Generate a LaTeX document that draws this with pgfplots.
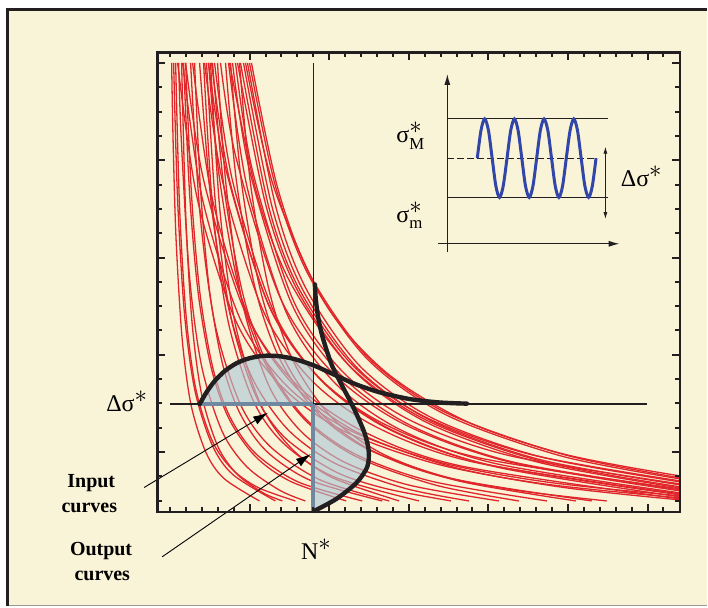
\documentclass[border=0pt]{standalone}
\usepackage{fontspec}
\setmainfont{Liberation Serif}
\usepackage{amsmath}
\usepackage{pgfplots}
\pgfplotsset{compat=1.18}
\usetikzlibrary{arrows.meta}

\definecolor{paper}{RGB}{249,243,216}
\definecolor{snred}{RGB}{224,38,42}
\definecolor{steel}{RGB}{112,137,160}
\definecolor{shade}{RGB}{172,201,213}
\definecolor{wave}{RGB}{50,70,170}
\definecolor{ink}{RGB}{35,31,32}

\newcommand{\lbl}{\fontsize{24}{28}\selectfont}
\newcommand{\bold}{\bfseries\fontsize{20}{25}\selectfont}
% a full-size asterisk used as a superscript
\newcommand{\st}{^{\displaystyle\ast}}

\pgfplotsset{
  sn/.style={snred, line width=1.3pt, smooth},
  pdf/.style={ink, line width=4.4pt, smooth, line cap=round},
}

\begin{document}
\begin{tikzpicture}
\begin{axis}[
  scale only axis,
  width=524pt, height=460.5pt,
  xmin=157.5, xmax=681.5,
  ymin=52.5, ymax=513,
  y dir=reverse,
  clip=false,
  axis on top,
  axis line style={line width=2.7pt, draw=ink},
  tick align=inside,
  xtick pos=both, ytick pos=both,
  xtick={250.15,329.9,...,650},
  minor xtick={170.4,186.35,...,666},
  ytick={63.3,160.7,...,455},
  minor ytick={63.3,87.65,...,503},
  xticklabels={}, yticklabels={},
  major tick length=8pt, minor tick length=5pt,
  tick style={line width=2pt, draw=ink},
]

% page and frame
\fill[white] (axis cs:0,0) rectangle (axis cs:708,609);
\fill[paper] (axis cs:8,10) rectangle (axis cs:708,607);
\draw[ink, line width=3pt] (axis cs:8,607) -- (axis cs:8,10) -- (axis cs:708,10);
\draw[black!40, line width=1pt] (axis cs:9.5,607) -- (axis cs:708,607);

% S-N curves reaching the right edge
\addplot[sn] coordinates {(252,63) (278,187.4) (310.7,275.5) (368.3,357.8) (445.2,412.7) (560.5,453.9) (682,477)};
\addplot[sn] coordinates {(250,63) (275.9,186.1) (309.2,275.7) (367.8,359.5) (446,415.3) (563.3,457.2) (682,480)};
\addplot[sn] coordinates {(248,63) (276.5,207.5) (307.2,290.2) (361.3,367.5) (433.5,419.1) (541.8,457.8) (682,483)};
\addplot[sn] coordinates {(246,63) (274.1,186.6) (325.4,303.3) (387.1,373.3) (469.2,423.1) (571.9,457.3) (682,479)};
\addplot[sn] coordinates {(244,63) (272.6,207.1) (303.6,290.8) (358.5,369.2) (431.6,421.4) (541.3,460.6) (682,486)};
\addplot[sn] coordinates {(241,63) (269.4,207.7) (299.8,289.6) (353.5,366.2) (425,417.3) (532.3,455.6) (682,482)};
\addplot[sn] coordinates {(238,63) (266.5,205.9) (298.1,290.9) (353.7,370.5) (427.9,423.5) (539.3,463.2) (682,489)};
\addplot[sn] coordinates {(236,63) (252.8,170) (294.4,302.1) (344.4,373.5) (411,421.1) (510.9,456.7) (682,485)};
\addplot[sn] coordinates {(233,63) (249.8,169.6) (292.4,304.7) (343.5,377.7) (411.6,426.4) (513.8,462.9) (682,491)};
\addplot[sn] coordinates {(230,63) (256.8,191.9) (290,281.3) (348.5,364.9) (426.5,420.7) (543.6,462.5) (682,488)};
\addplot[sn] coordinates {(229,63) (247.7,187.8) (287.9,315.4) (336.1,384.3) (400.4,430.2) (496.9,464.6) (682,494)};
\addplot[sn] coordinates {(221,63) (236.4,157.4) (280.8,298.3) (334.1,374.4) (405.1,425.2) (511.7,463.2) (682,492)};
\addplot[sn] coordinates {(215,63) (233.1,181.5) (274.4,312.4) (323.8,383.1) (389.8,430.2) (488.8,465.5) (682,496)};
\addplot[sn] coordinates {(212,63) (229.9,179.9) (270.4,308.5) (319,378) (383.8,424.3) (481,459) (682,490)};
\addplot[sn] coordinates {(209,63) (225.6,166.9) (269.3,305.5) (321.7,380.4) (391.5,430.3) (496.3,467.7) (682,498)};
\addplot[sn] coordinates {(205,63) (223.2,182.5) (264,312) (312.9,381.9) (378.2,428.5) (476.1,463.4) (682,495)};
\addplot[sn] coordinates {(186,63) (204.1,180.6) (245.6,312.5) (295.5,383.8) (362,431.3) (461.7,466.9) (682,500)};
\addplot[sn] coordinates {(183,63) (202.7,198.7) (241.1,320.6) (287.1,386.4) (348.6,430.3) (440.7,463.2) (548.2,483.1) (682,497)};
\addplot[sn] coordinates {(193,63) (212.9,199.8) (251.8,323.5) (298.5,390.2) (360.9,434.7) (454.3,468.1) (563.4,488.3) (682,501)};
\addplot[sn] coordinates {(178,63) (197.7,199.1) (236.3,321.6) (282.6,387.7) (344.3,431.8) (436.9,464.8) (544.9,484.9) (682,499)};

% S-N curves ending at the bottom
\addplot[sn] coordinates {(172,63) (173.4,138.1) (176.4,238.6) (182.5,339) (191.5,406) (206.6,453.9) (224.7,479.7) (260,502)};
\addplot[sn] coordinates {(174,63) (177.9,198.1) (184.8,313.7) (195.2,390.8) (212.6,445.9) (233.4,475.6) (276,502)};
\addplot[sn] coordinates {(176,63) (180,208.8) (186.6,317.5) (196.3,390) (212.7,441.8) (232.2,469.8) (258.3,488.4) (296,502)};
\addplot[sn] coordinates {(179,63) (181.6,138.8) (189.8,275.8) (202.1,367.2) (222.7,432.5) (247.4,467.8) (280.3,491.3) (306,502)};
\addplot[sn] coordinates {(182,63) (186.2,217.2) (192.6,324.8) (202.3,396.5) (218.5,447.8) (237.8,475.4) (263.7,493.9) (283,502)};
\addplot[sn] coordinates {(184,63) (190,194) (198.7,294.3) (211.9,369.5) (229.5,419.7) (255.8,457.3) (290.9,482.3) (347,502)};
\addplot[sn] coordinates {(186,63) (192.1,198) (200.6,295.7) (213.4,369) (230.5,417.9) (256.2,454.5) (298.9,483) (363,502)};
\addplot[sn] coordinates {(191,63) (200.3,212.8) (215.4,324.5) (240.5,404.3) (270.7,447.4) (321,481) (390,502)};
\addplot[sn] coordinates {(195,63) (200.8,187.6) (209.6,288.3) (222.8,363.8) (240.4,414.1) (266.8,451.9) (310.9,481.3) (383,502)};
\addplot[sn] coordinates {(204,63) (213.1,208.4) (228.3,320.6) (253.5,400.8) (283.8,444) (334.3,477.7) (420,502)};
\addplot[sn] coordinates {(207,63) (216,204.7) (231.1,316.5) (256.2,396.3) (286.4,439.4) (336.7,473) (387,489.7) (452,502)};
\addplot[sn] coordinates {(211,63) (220.3,210) (235.6,324) (261.3,405.4) (292.1,449.4) (333.1,478.7) (400,502)};
\addplot[sn] coordinates {(213,63) (224.2,185.7) (243.1,293.5) (268.2,365.4) (305.9,419.3) (356.2,455.2) (431.7,482.1) (548,502)};
\addplot[sn] coordinates {(231,63) (242,182.8) (260.9,290.6) (286,362.4) (323.7,416.3) (374,452.2) (449.4,479.1) (593,502)};
\addplot[sn] coordinates {(226,63) (236.9,181.2) (255.7,288.8) (280.8,360.6) (318.5,414.4) (368.8,450.3) (444.1,477.2) (519.5,491.7) (608,502)};
\addplot[sn] coordinates {(240,63) (251.1,184.6) (270.1,292.7) (295.3,364.8) (333.1,418.9) (383.6,454.9) (459.3,481.9) (577,502)};
\addplot[sn] coordinates {(200,63) (212.7,213.3) (230.3,313.7) (253.7,380.7) (288.9,430.9) (335.7,464.3) (406,489.4) (470,502)};
\addplot[sn] coordinates {(218,63) (226,180.3) (242.2,300.2) (269.1,385.8) (301.5,432.1) (344.7,462.9) (409.4,486) (500,502)};
\addplot[sn] coordinates {(209,63) (219.6,176) (239.4,288.8) (265.7,364) (305.2,420.4) (357.8,458) (436.8,486.2) (520,502)};

% shaded parts of the two distributions
\addplot[smooth, draw=none, fill=shade, fill opacity=0.62] coordinates {(200,405) (207,393) (215,382) (225,372) (237,364) (250,359) (265,356.5) (280,357) (295,359.8) (314,366)} -- (axis cs:314,405) -- cycle;
\addplot[smooth, draw=none, fill=shade, fill opacity=0.62] coordinates {(352.5,405) (360,421) (366,436) (369.5,452) (368,468) (357,484) (337,500) (315,512)} -- (axis cs:314,512) -- (axis cs:314,405) -- cycle;

% reference lines at N* and delta sigma*
\addplot[ink, line width=1.6pt] coordinates {(314,63) (314,405)};
\addplot[ink, line width=1.3pt] coordinates {(170,405) (648,405)};
\addplot[steel, line width=4pt] coordinates {(200,405) (314,405)};
\addplot[steel, line width=4pt] coordinates {(314,405) (314,513)};

% distribution curves
\addplot[pdf] coordinates {(200,405) (207,393) (215,382) (225,372) (237,364) (250,359) (265,356.5) (280,357) (295,359.8) (314,366) (335,375.5) (355,384.5) (380,393) (410,399.8) (440,403.3) (468,404.5)};
\addplot[pdf] coordinates {(315.5,285) (316.5,300) (318.5,316) (322,333) (327,350) (333,367) (341.5,384) (352.5,405) (360,421) (366,436) (369.5,452) (368,468) (357,484) (337,500) (315,512)};

% inset: constant amplitude loading
\draw[ink, line width=1.3pt, -{Latex[length=11pt,width=6pt]}] (axis cs:448.3,253) -- (axis cs:448.3,74);
\draw[ink, line width=1.3pt, -{Latex[length=11pt,width=6pt]}] (axis cs:439.3,244.3) -- (axis cs:621,244.3);
\addplot[ink, line width=1.4pt] coordinates {(448.3,119) (609.3,119)};
\addplot[ink, line width=1.4pt] coordinates {(448.3,197.7) (609.3,197.7)};
\addplot[ink, line width=1.3pt, dash pattern=on 6.5pt off 3.5pt] coordinates {(448.3,158.5) (598.3,158.5)};
\addplot[wave, line width=3pt, smooth] coordinates {
 (478.3,158.5) (482.0,130.7) (485.7,119.2) (489.5,130.7) (493.2,158.5) (496.9,186.3) (500.6,197.8) (504.3,186.3)
 (508.1,158.5) (511.8,130.7) (515.5,119.2) (519.2,130.7) (522.9,158.5) (526.6,186.3) (530.4,197.8) (534.1,186.3)
 (537.8,158.5) (541.5,130.7) (545.2,119.2) (549.0,130.7) (552.7,158.5) (556.4,186.3) (560.1,197.8) (563.8,186.3)
 (567.5,158.5) (571.3,130.7) (575.0,119.2) (578.7,130.7) (582.4,158.5) (586.1,186.3) (589.9,197.8) (593.6,186.3)
 (597.3,158.5)};
\draw[ink, line width=0.8pt, {Latex[length=7pt,width=4pt]}-{Latex[length=7pt,width=4pt]}] (axis cs:606.7,147) -- (axis cs:606.7,219.5);

\node[anchor=base west, font=\lbl, inner sep=0pt] at (axis cs:397,143.3) {$\text{σ}\st_{\text{M}}$};
\node[anchor=base west, font=\lbl, inner sep=0pt] at (axis cs:397,223.3) {$\text{σ}\st_{\text{m}}$};
\node[anchor=base west, font=\lbl, inner sep=0pt] at (axis cs:622,186.7) {Δσ$\st$};

% axis annotations
\node[anchor=base east, font=\lbl, inner sep=0pt] at (axis cs:148,412.3) {Δσ$\st$};
\node[anchor=base west, font=\lbl, inner sep=0pt] at (axis cs:301.5,560.7) {N$\st$};

\node[anchor=base, font=\bold, inner sep=0pt] at (axis cs:91.5,489) {Input};
\node[anchor=base, font=\bold, inner sep=0pt] at (axis cs:89.5,514) {curves};
\node[anchor=base, font=\bold, inner sep=0pt] at (axis cs:101.3,556.7) {Output};
\node[anchor=base, font=\bold, inner sep=0pt] at (axis cs:102.5,581.7) {curves};

\draw[black, line width=0.9pt, -{Latex[length=15pt,width=9pt]}] (axis cs:144.5,488.5) -- (axis cs:268.6,413.6);
\draw[black, line width=0.9pt, -{Latex[length=15pt,width=9pt]}] (axis cs:162.5,558) -- (axis cs:311.5,455);

\end{axis}
\end{tikzpicture}
\end{document}
